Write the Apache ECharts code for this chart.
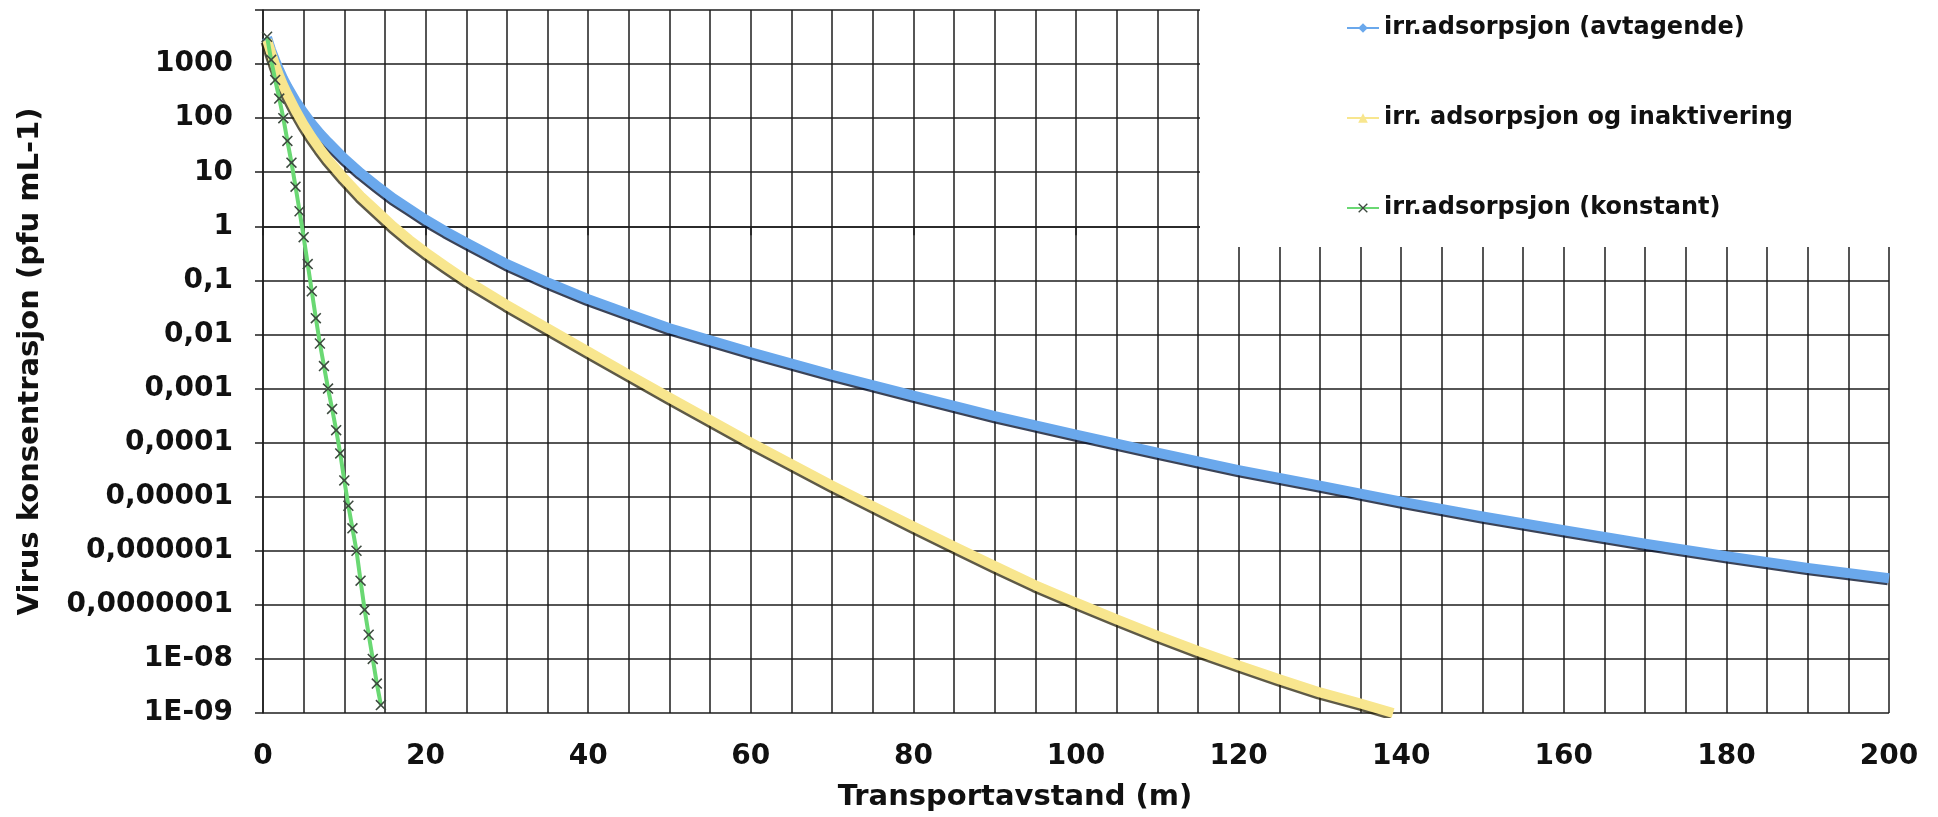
<!DOCTYPE html>
<head>
    <meta charset="utf-8">
    <title>Virus transport</title>
    <style>
        html, body { margin: 0; padding: 0; background: #fff; }
        #chart { width: 1938px; height: 817px; }
    </style>
</head>
<body>
    <div id="chart"></div>

    <script src="https://cdn.jsdelivr.net/npm/echarts@6/dist/echarts.min.js"></script>
    <script type="text/javascript">

// data: x = transport distance (m), y = virus concentration (pfu/mL)
var blueX = [0.5, 1, 1.5, 2, 2.5, 3, 4, 5, 6, 7, 8, 10, 12, 14, 16, 18, 20, 22.5, 25, 30, 35, 40, 45, 50, 55,
             60, 70, 80, 90, 100, 110, 120, 130, 140, 150, 160, 170, 180, 190, 200];
var blueY = [3100, 1800, 1160, 770, 530, 380, 210, 126, 79, 52, 36, 18, 9.7, 5.6, 3.3, 2.1, 1.33, 0.8, 0.5, 0.2, 0.092, 0.045, 0.024, 0.013, 0.0078,
             0.0047, 0.0018, 0.00074, 0.00031, 0.00014, 6.5e-5, 3.1e-5, 1.6e-5, 8.1e-6, 4.3e-6, 2.4e-6, 1.35e-6, 7.9e-7, 4.8e-7, 3.1e-7];

var yellowX = [0.5, 1, 1.5, 2, 2.5, 3, 4, 5, 6, 7, 8, 10, 12, 14, 16, 18, 20, 22.5, 25, 30, 35, 40, 45, 50,
               55, 60, 65, 70, 75, 80, 85, 90, 95, 100, 105, 110, 115, 120, 125, 130, 135, 139];
var yellowY = [2800, 1600, 950, 600, 400, 275, 140, 76, 44, 27, 17, 7.6, 3.6, 1.9, 1.0, 0.56, 0.33, 0.18, 0.1, 0.035, 0.013, 0.0048, 0.0018, 0.00068,
               0.00026, 1.0e-4, 4.0e-5, 1.6e-5, 6.7e-6, 2.8e-6, 1.2e-6, 5.2e-7, 2.3e-7, 1.1e-7, 5.4e-8, 2.7e-8, 1.4e-8, 7.6e-9, 4.2e-9, 2.4e-9, 1.5e-9, 1.0e-9];

var greenX = [0.5, 1, 1.5, 2, 2.5, 3, 3.5, 4, 4.5, 5, 5.5, 6, 6.5, 7, 7.5,
              8, 8.5, 9, 9.5, 10, 10.5, 11, 11.5, 12, 12.5, 13, 13.5, 14, 14.5];
var greenY = [3200, 1200, 510, 230, 100, 38, 15, 5.4, 1.9, 0.63, 0.2, 0.063, 0.02, 0.0068, 0.0026,
              0.001, 4.2e-4, 1.7e-4, 6.3e-5, 2.0e-5, 6.8e-6, 2.6e-6, 1.0e-6, 2.8e-7, 8.1e-8, 2.8e-8, 1.0e-8, 3.5e-9, 1.4e-9];

var seriesNames = ['irr.adsorpsjon (avtagende)', 'irr. adsorpsjon og inaktivering', 'irr.adsorpsjon (konstant)'];

// decades shown on the y axis (exponents of 10)
var yMinExp = -9;
var yMaxExp = 4;

var tickFont = 'DejaVu Sans';
var gridColor = '#1e1e1e';

// log axis is drawn as a value axis over log10 of the values
function toPoints(xs, ys) {
    return xs.map(function (x, i) { return [x, Math.log10(ys[i])]; });
}

function expLabel(v) {
    var e = Math.round(v);
    if (e >= yMaxExp) return '';
    if (e >= 0) return String(Math.pow(10, e));
    if (e >= -7) return '0,' + '0'.repeat(-e - 1) + '1';
    var n = -e;
    return '1E-' + (n < 10 ? '0' : '') + n;
}

var crossPath = 'path://M0,1L1,0L5,4L9,0L10,1L6,5L10,9L9,10L5,6L1,10L0,9L4,5Z';

var myChart = echarts.init(document.getElementById('chart'));

myChart.setOption(
    option = {
        animation: false,
        backgroundColor: '#fff',
        grid: {
            left: 263,
            right: 49,
            top: 10,
            bottom: 104,
            containLabel: false
        },
        legend: {
            data: seriesNames,
            orient: 'vertical',
            left: 1341,
            top: 8,
            itemGap: 60,
            itemWidth: 32,
            itemHeight: 12,
            z: 20,
            textStyle: {
                fontFamily: tickFont,
                fontWeight: 'bold',
                fontSize: 24,
                lineHeight: 30,
                color: '#111'
            }
        },
        // white panel behind the legend hides the grid there
        graphic: [{
            type: 'rect',
            z: 3,
            shape: { x: 1200, y: 0, width: 738, height: 247 },
            style: { fill: '#fff' }
        }],
        xAxis: {
            type: 'value',
            min: 0,
            max: 200,
            interval: 20,
            name: 'Transportavstand (m)',
            nameLocation: 'middle',
            nameGap: 70,
            nameTextStyle: {
                fontFamily: tickFont,
                fontWeight: 'bold',
                fontSize: 29,
                color: '#111',
                padding: [0, 122, 0, 0]
            },
            axisLine: { lineStyle: { color: gridColor, width: 1.5 } },
            axisTick: { show: true, length: 9, lineStyle: { color: gridColor, width: 1.5 } },
            axisLabel: { fontFamily: tickFont, fontWeight: 'bold', fontSize: 28, color: '#111', margin: 30 },
            splitLine: { show: true, lineStyle: { color: gridColor, width: 1.5 } },
            minorTick: { show: false, splitNumber: 4 },
            minorSplitLine: { show: true, lineStyle: { color: gridColor, width: 1.5 } }
        },
        yAxis: {
            type: 'value',
            min: yMinExp,
            max: yMaxExp,
            interval: 1,
            name: 'Virus konsentrasjon (pfu mL-1)',
            nameLocation: 'middle',
            nameGap: 218,
            nameTextStyle: {
                fontFamily: tickFont,
                fontWeight: 'bold',
                fontSize: 29,
                color: '#111'
            },
            axisLine: { show: true, lineStyle: { color: gridColor, width: 1.5 } },
            axisTick: { show: true, length: 8, lineStyle: { color: gridColor, width: 1.5 } },
            axisLabel: {
                fontFamily: tickFont, fontWeight: 'bold', fontSize: 28, color: '#111', margin: 30,
                formatter: expLabel
            },
            splitLine: { show: true, lineStyle: { color: gridColor, width: 1.5 } }
        },
        series: [
            {
                name: seriesNames[0],
                type: 'line',
                data: toPoints(blueX, blueY),
                smooth: false,
                symbol: 'diamond',
                symbolSize: 10,
                showSymbol: false,
                itemStyle: { color: '#6aa8ec' },
                lineStyle: {
                    color: '#6aa8ec',
                    width: 10,
                    join: 'round',
                    shadowColor: 'rgba(10,20,45,0.8)',
                    shadowOffsetX: -1,
                    shadowOffsetY: 2,
                    shadowBlur: 0
                },
                z: 4
            },
            {
                name: seriesNames[1],
                type: 'line',
                data: toPoints(yellowX, yellowY),
                smooth: false,
                symbol: 'triangle',
                symbolSize: 10,
                showSymbol: false,
                itemStyle: { color: '#f8e68e' },
                lineStyle: {
                    color: '#f8e68e',
                    width: 10,
                    join: 'round',
                    shadowColor: 'rgba(40,35,10,0.75)',
                    shadowOffsetX: -1.5,
                    shadowOffsetY: 2,
                    shadowBlur: 0
                },
                z: 4
            },
            {
                name: seriesNames[2],
                type: 'line',
                data: toPoints(greenX, greenY),
                smooth: false,
                symbol: crossPath,
                symbolSize: 11,
                showSymbol: true,
                itemStyle: { color: '#3d4a3f' },
                lineStyle: { color: '#6ad873', width: 4 },
                z: 5
            }
        ]
    });

window.onresize = function () {
    myChart.resize();
};

    </script>
</body>
